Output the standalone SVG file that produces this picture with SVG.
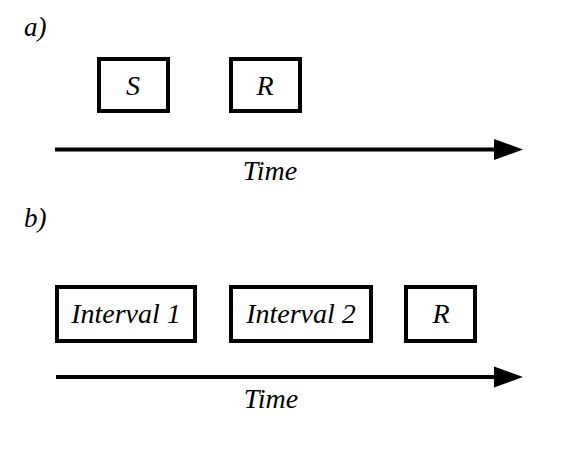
<svg xmlns="http://www.w3.org/2000/svg" width="567" height="454" viewBox="0 0 567 454">
  <style>
    .box { fill: #ffffff; stroke: #000000; stroke-width: 4; }
    .lbl { font-family: "Liberation Serif", "Times New Roman", serif; font-style: italic; font-size: 28px; fill: #000000; text-anchor: middle; }
    .tag { font-family: "Liberation Serif", "Times New Roman", serif; font-style: italic; font-size: 27px; fill: #000000; }
    .axis { stroke: #000000; stroke-width: 4; fill: none; marker-end: url(#head); }
  </style>
  <defs>
    <marker id="head" markerUnits="userSpaceOnUse" markerWidth="30" markerHeight="22" refX="0" refY="10.5" orient="auto" overflow="visible">
      <path d="M0,0 L29,10.5 L0,21 Z" fill="#000000"/>
    </marker>
  </defs>
  <rect width="567" height="454" fill="#ffffff"/>

  <text class="tag" x="24" y="36">a)</text>
  <text class="tag" x="24" y="227">b)</text>

  <g id="connectors">
    <line class="axis" x1="55" y1="149.5" x2="494" y2="149.5"/>
    <line class="axis" x1="56" y1="377" x2="494" y2="377"/>
  </g>

  <text class="lbl" x="270" y="180">Time</text>
  <text class="lbl" x="271" y="408">Time</text>

  <g id="a-S">
    <rect class="box" x="99" y="59" width="69" height="52"/>
    <text class="lbl" x="133" y="95">S</text>
  </g>
  <g id="a-R">
    <rect class="box" x="231" y="59" width="69" height="52"/>
    <text class="lbl" x="265" y="95">R</text>
  </g>

  <g id="b-interval1">
    <rect class="box" x="57" y="287" width="138" height="54"/>
    <text class="lbl" x="126" y="323">Interval 1</text>
  </g>
  <g id="b-interval2">
    <rect class="box" x="231" y="287" width="140" height="54"/>
    <text class="lbl" x="301" y="323">Interval 2</text>
  </g>
  <g id="b-R">
    <rect class="box" x="406" y="287" width="69" height="54"/>
    <text class="lbl" x="441" y="323">R</text>
  </g>
</svg>
